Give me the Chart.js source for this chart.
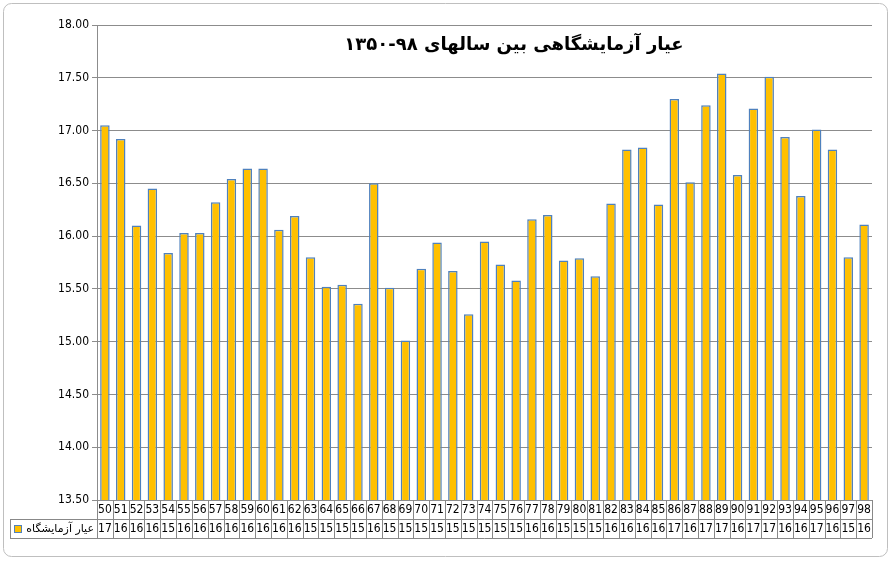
<!DOCTYPE html>
<html><head><meta charset="utf-8">
<script src="https://cdn.jsdelivr.net/npm/chart.js@4"></script>
<style>html,body{margin:0;padding:0;background:#fff}#w{width:893px;height:564px}</style>
</head><body><div id="w"><canvas id="c"></canvas></div>
<script>
const years=['50','51','52','53','54','55','56','57','58','59','60','61','62','63','64','65','66','67','68','69','70','71','72','73','74','75','76','77','78','79','80','81','82','83','84','85','86','87','88','89','90','91','92','93','94','95','96','97','98'];
const values=[17.05,16.92,16.10,16.45,15.84,16.03,16.03,16.32,16.54,16.64,16.64,16.06,16.19,15.80,15.52,15.54,15.36,16.50,15.51,15.01,15.69,15.94,15.67,15.26,15.95,15.73,15.58,16.16,16.20,15.77,15.79,15.62,16.31,16.82,16.84,16.30,17.30,16.51,17.24,17.54,16.58,17.21,17.51,16.94,16.38,17.01,16.82,15.80,16.11];
const seriesName='عیار آزمایشگاه';
const title='عیار آزمایشگاهی بین سالهای ۹۸-۱۳۵۰';

const deco={id:'deco',
 beforeDraw(ch){const c=ch.ctx;c.save();c.fillStyle='#fff';c.fillRect(0,0,ch.width,ch.height);
  c.strokeStyle='#bfbfbf';c.lineWidth=1;c.beginPath();c.roundRect(3.5,3.5,884,553,8);c.stroke();c.restore();},
 afterDraw(ch){const c=ch.ctx,a=ch.chartArea,x=ch.scales.x;c.save();
  c.font='bold 18px "DejaVu Sans"';c.fillStyle='#000';c.textAlign='center';c.textBaseline='middle';
  c.fillText(title,514,45);
  const r1=a.bottom,r2=r1+19,r3=r2+19;const step=(a.right-a.left)/years.length;
  c.strokeStyle='#888';c.lineWidth=1;
  c.beginPath();c.moveTo(a.left,r2+.5);c.lineTo(a.right,r2+.5);c.moveTo(a.left,r3+.5);c.lineTo(a.right,r3+.5);
  c.moveTo(10,r2+.5);c.lineTo(a.left,r2+.5);c.moveTo(10,r3+.5);c.lineTo(a.left,r3+.5);c.moveTo(10.5,r2);c.lineTo(10.5,r3);
  for(let i=0;i<=years.length;i++){const xx=Math.round(a.left+i*step)+.5;c.moveTo(xx,r1);c.lineTo(xx,r3);}
  c.stroke();
  c.font='12px "DejaVu Sans Condensed"';c.fillStyle='#000';
  years.forEach((y,i)=>{const cx=x.getPixelForValue(i);c.fillText(y,cx,r1+10);c.fillText(String(Math.round(values[i]-0.4999)),cx,r2+10);});
  c.fillStyle='#FFC000';c.strokeStyle='#4F81BD';c.fillRect(14,r2+6,8,8);c.strokeRect(14.5,r2+6.5,7,7);
  c.fillStyle='#000';c.font='11px "DejaVu Sans"';c.textAlign='right';c.fillText(seriesName,a.left-3,r2+10);
  c.restore();}
};
new Chart(document.getElementById('c'),{type:'bar',
 data:{labels:years,datasets:[{label:seriesName,data:values,backgroundColor:'#FFC000',borderColor:'#4F81BD',borderWidth:1.5,borderSkipped:false,barPercentage:0.6,categoryPercentage:1}]},
 options:{responsive:true,maintainAspectRatio:false,animation:false,
  layout:{padding:{left:10,right:21,top:25,bottom:64}},
  plugins:{legend:{display:false},title:{display:false},tooltip:{enabled:false}},
  scales:{x:{display:false,grid:{display:false}},
   y:{min:13.5,max:18,afterFit(s){s.width=87;},ticks:{stepSize:0.5,callback:v=>v.toFixed(2),color:'#000',font:{family:'DejaVu Sans Condensed',size:12}},
    grid:{color:'#8c8c8c',drawTicks:true,tickLength:5},border:{color:'#8c8c8c'}}}},
 plugins:[deco]});
</script></body></html>
